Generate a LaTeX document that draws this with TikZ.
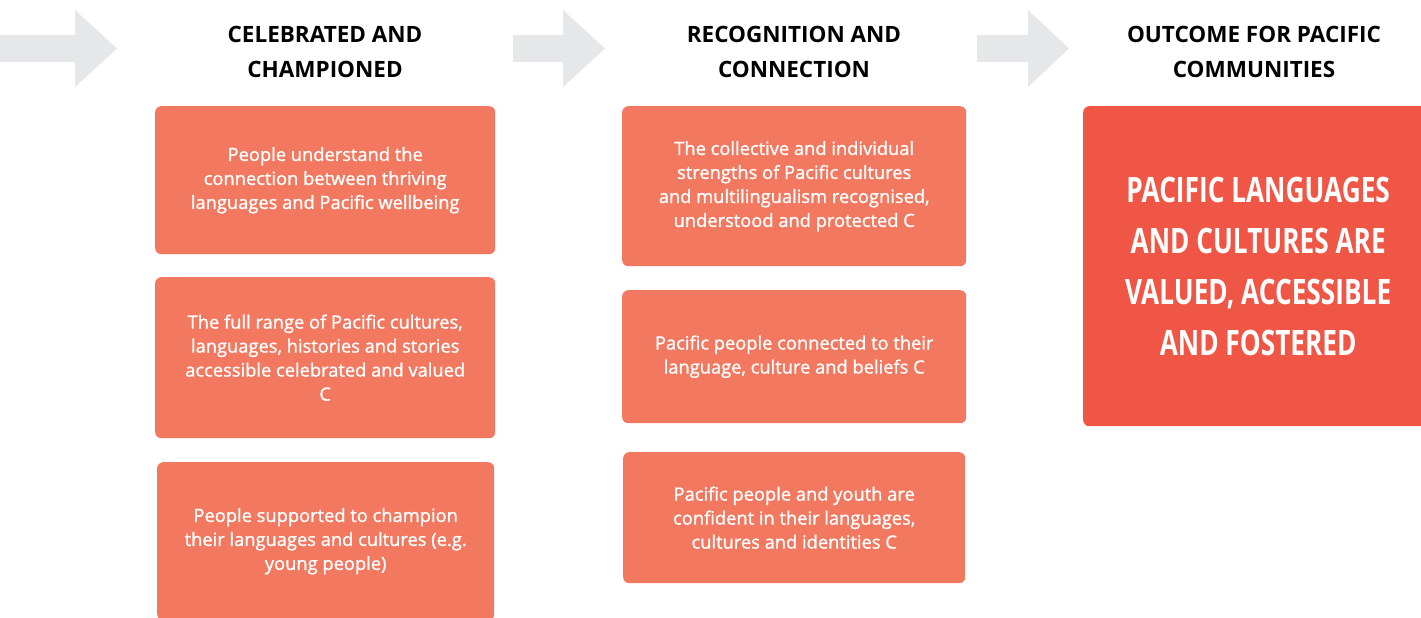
\documentclass[tikz,border=0pt]{standalone}
\usepackage{fontspec}
\setmainfont{Open Sans}
\newfontfamily\boxfont{Open Sans}[FakeBold=1.2]
\usepackage{graphicx}
\usepackage{tikz}
\usetikzlibrary{positioning}
\definecolor{salmon1}{HTML}{F27860}
\definecolor{red1}{HTML}{EF5645}
\definecolor{grey1}{HTML}{E6E7E8}
\newcommand{\narrowline}[1]{\scalebox{0.75}[1]{#1}}

\begin{document}
\begin{tikzpicture}[x=1pt, y=-1pt,
    stagehead/.style={font=\fontsize{22.5}{35}\selectfont\bfseries, align=center, text=black},
    resultbox/.style={fill=salmon1, rounded corners=6pt, text=white, align=center,
      inner sep=0pt, anchor=north west, font=\boxfont\fontsize{18.3}{24}\selectfont},
    outcomebox/.style={fill=red1, rounded corners=6pt, text=white, align=center,
      inner sep=0pt, anchor=north west, font=\fontsize{35}{51}\selectfont\bfseries}]
  \useasboundingbox (0,0) rectangle (1421,618);
  \clip (0,0) rectangle (1421,618);

  % grey arrows between the stages
  \foreach \s/\e/\t in {-10/75/117, 513/563/605, 977/1028/1069}
    \fill[grey1] (\s,35) -- (\e,35) -- (\e,10) -- (\t,48.5) -- (\e,87) -- (\e,62) -- (\s,62) -- cycle;

  % stage headings
  \node[stagehead] (celebrated) at (325,52) {CELEBRATED AND\\CHAMPIONED};
  \node[stagehead] (recognition) at (794,52) {RECOGNITION AND\\CONNECTION};
  \node[stagehead] (outcome) at (1254,52) {OUTCOME FOR PACIFIC\\COMMUNITIES};

  % first column
  \node[resultbox, minimum width=340, minimum height=148] (understand) at (155,106)
    {People understand the\\connection between thriving\\languages and Pacific wellbeing};
  \node[resultbox, minimum width=340, minimum height=161] (fullrange) at (155,277)
    {The full range of Pacific cultures,\\languages, histories and stories\\accessible celebrated and valued\\C};
  \node[resultbox, minimum width=337, minimum height=158] (supported) at (157,462)
    {People supported to champion\\their languages and cultures (e.g.\\young people)};

  % second column
  \node[resultbox, minimum width=344, minimum height=160] (strengths) at (622,106)
    {The collective and individual\\strengths of Pacific cultures\\and multilingualism recognised,\\understood and protected C};
  \node[resultbox, minimum width=344, minimum height=133] (connected) at (622,290)
    {Pacific people connected to their\\language, culture and beliefs C};
  \node[resultbox, minimum width=342, minimum height=131] (confident) at (623,452)
    {Pacific people and youth are\\confident in their languages,\\cultures and identities C};

  % outcome box
  \node[outcomebox, minimum width=350, minimum height=320] (valued) at (1083,106)
    {\narrowline{PACIFIC LANGUAGES}\\\narrowline{AND CULTURES ARE}\\\narrowline{VALUED, ACCESSIBLE}\\\narrowline{AND FOSTERED}};
\end{tikzpicture}
\end{document}
